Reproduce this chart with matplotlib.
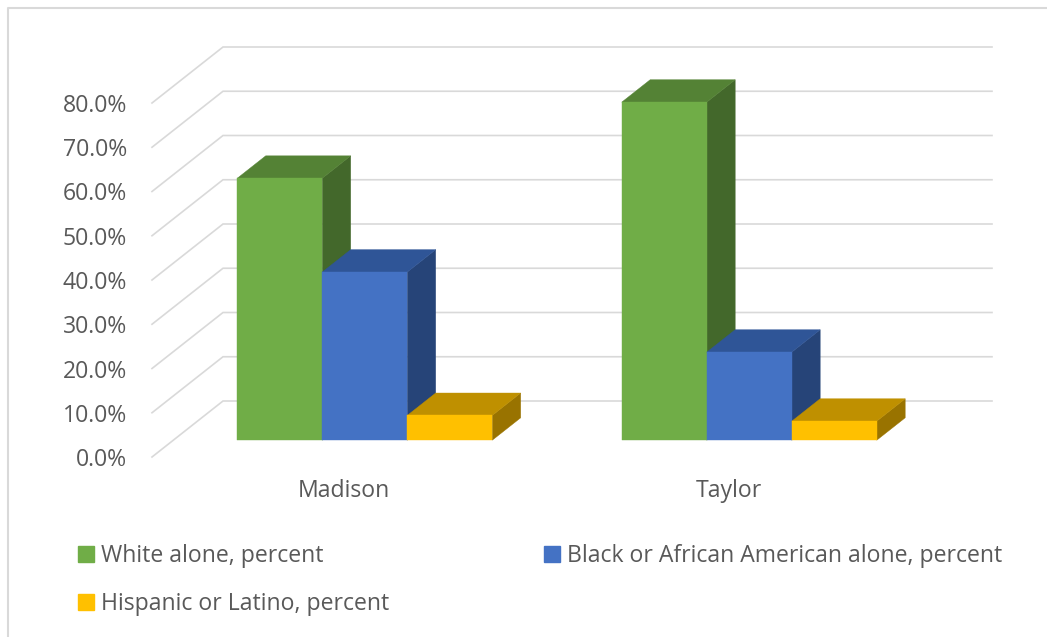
"""
3D-look clustered column chart of population shares for two counties.
"""
import matplotlib
matplotlib.use("Agg")
from matplotlib import pyplot as plt
from matplotlib import patches, ticker

categories = ["Madison", "Taylor"]
series_names = ["White alone, percent", "Black or African American alone, percent", "Hispanic or Latino, percent"]
white = [59.2, 76.4]
black = [38.0, 19.9]
hispanic = [5.6, 4.3]
y_ticks = [0, 10, 20, 30, 40, 50, 60, 70, 80]

# front, side, top colours for each series
colours = [("#70ad47", "#43682b", "#548235"),
           ("#4472c4", "#264478", "#2f5597"),
           ("#ffc000", "#997300", "#bf9000")]

plt.rcParams["font.family"] = ["Open Sans", "DejaVu Sans"]
text_colour = "#595959"

W, H = 1047, 637
fig = plt.figure(figsize=(W / 100, H / 100), dpi=100)
fig.patch.set_facecolor("white")

# Axes is the front plane of the 3D box
left, right, base, top = 152, 921, 457, 103
ax = fig.add_axes([left / W, 1 - base / H, (right - left) / W, (base - top) / H])
ax.set_xlim(0, len(categories))
ax.set_ylim(0, 80)
ax.patch.set_visible(False)
for s in ax.spines.values():
    s.set_visible(False)

# Depth of the box in data units
depth_x = 71 / 384.5
depth_y = 56 / 354 * 80
bar_w = 85 / 384.5
d0, d1 = 0.3, 0.7

# Walls
for v in y_ticks:
    ax.plot([0, depth_x, len(categories) + depth_x], [v, v + depth_y, v + depth_y],
            color="#d9d9d9", lw=1.2, clip_on=False, zorder=1, solid_joinstyle="miter")


def draw_bar(x0, v, cols):
    x1 = x0 + bar_w
    fx, fy = d0 * depth_x, d0 * depth_y
    bx, by = d1 * depth_x, d1 * depth_y
    front = [(x0 + fx, fy), (x1 + fx, fy), (x1 + fx, fy + v), (x0 + fx, fy + v)]
    side = [(x1 + fx, fy), (x1 + bx, by), (x1 + bx, by + v), (x1 + fx, fy + v)]
    roof = [(x0 + fx, fy + v), (x1 + fx, fy + v), (x1 + bx, by + v), (x0 + bx, by + v)]
    for pts, c in [(side, cols[1]), (roof, cols[2]), (front, cols[0])]:
        ax.add_patch(patches.Polygon(pts, closed=True, facecolor=c, edgecolor=c, lw=0.3, clip_on=False, zorder=3))


# Draw series left to right so each bar covers the side of the one before
for i in range(len(categories)):
    start = i + 0.5 - 1.5 * bar_w - 0.002
    for j, vals in enumerate([white, black, hispanic]):
        draw_bar(start + j * bar_w, vals[i], colours[j])

# Axis labels
ax.set_yticks(y_ticks)
ax.yaxis.set_major_formatter(ticker.FuncFormatter(lambda v, _: f"{v:.1f}%"))
ax.set_xticks([i + 0.5 for i in range(len(categories))])
ax.set_xticklabels(categories)
ax.tick_params(axis="y", length=0, pad=18, labelsize=16.6, labelcolor=text_colour)
ax.tick_params(axis="x", length=0, pad=15.5, labelsize=16.6, labelcolor=text_colour)

# Legend, filled column by column
handles = [patches.Patch(color=colours[k][0], label=series_names[k]) for k in [0, 2, 1]]
fig.legend(handles=handles, ncols=2, loc="lower left", bbox_to_anchor=(78 / W, 1 - 616 / H),
           bbox_transform=fig.transFigure, frameon=False, fontsize=16.6, labelcolor=text_colour,
           handlelength=0.7, handleheight=0.7, handletextpad=0.3, columnspacing=6.7, labelspacing=1.05,
           borderpad=0, borderaxespad=0)

# Chart border
fig.add_artist(plt.Line2D([8 / W, 8 / W, 1], [0, 1 - 8 / H, 1 - 8 / H], color="#d9d9d9", lw=1.5))

fig.savefig("out.png", dpi=100)
